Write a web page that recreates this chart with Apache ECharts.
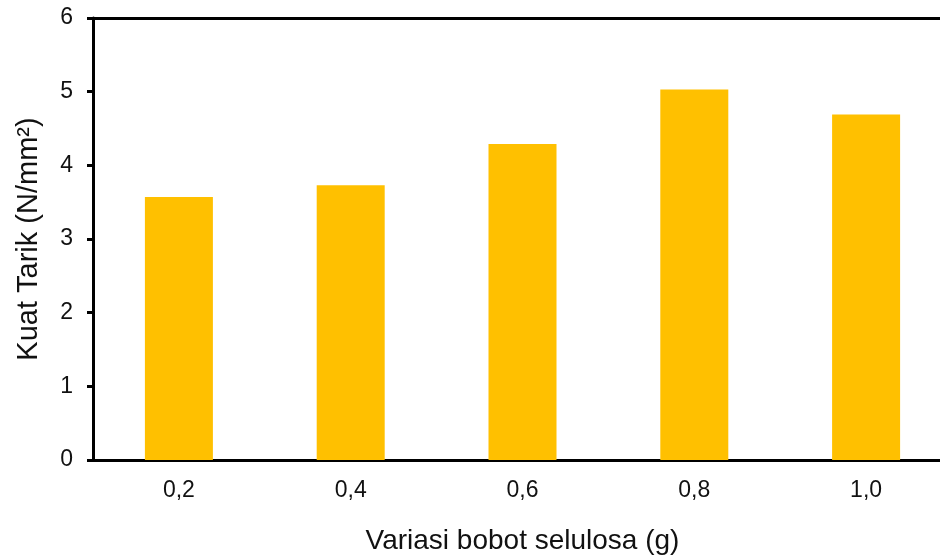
<!DOCTYPE html>
<html><head><meta charset="utf-8">
<script src="https://cdn.jsdelivr.net/npm/echarts@6/dist/echarts.min.js"></script>
<style>html,body{margin:0;padding:0;background:#fff}#c{width:940px;height:555px}</style>
</head><body><div id="c"></div>
<script>
const categories = ['0,2', '0,4', '0,6', '0,8', '1,0'];
const kuatTarik = [3.57, 3.73, 4.29, 5.03, 4.69];
const yTicks = [0, 1, 2, 3, 4, 5, 6];

const chart = echarts.init(document.getElementById('c'), null, {renderer: 'canvas'});
const font = 'Liberation Sans, Arial, sans-serif';
chart.setOption({
  animation: false,
  backgroundColor: '#fff',
  grid: {left: 93, top: 18, width: 859, height: 442, show: false, outerBoundsMode: 'none', containLabel: false},
  xAxis: [{
    type: 'category', data: categories, position: 'bottom',
    axisLine: {show: true, lineStyle: {color: '#000', width: 3}},
    axisTick: {show: false},
    axisLabel: {color: '#111', fontSize: 23, fontFamily: font, margin: 19},
    name: 'Variasi bobot selulosa (g)', nameLocation: 'middle', nameGap: 67,
    nameTextStyle: {color: '#111', fontSize: 28, fontFamily: font}
  }, {
    type: 'category', data: categories, position: 'top',
    axisLine: {show: true, onZero: false, lineStyle: {color: '#000', width: 3}},
    axisTick: {show: false}, axisLabel: {show: false}
  }],
  yAxis: {
    type: 'value', min: yTicks[0], max: yTicks[yTicks.length - 1], interval: 1,
    axisLine: {show: true, lineStyle: {color: '#000', width: 3}},
    axisTick: {show: true, inside: false, length: 6, lineStyle: {color: '#000', width: 3}},
    splitLine: {show: false},
    axisLabel: {color: '#111', fontSize: 23, fontFamily: font, margin: 20},
    name: 'Kuat Tarik (N/mm²)', nameLocation: 'middle', nameGap: 50,
    nameTextStyle: {color: '#111', fontSize: 29, fontFamily: font}
  },
  series: [{
    type: 'bar', data: kuatTarik, barWidth: 68, xAxisIndex: 0,
    itemStyle: {color: '#FFC000'}
  }]
});
</script></body></html>
